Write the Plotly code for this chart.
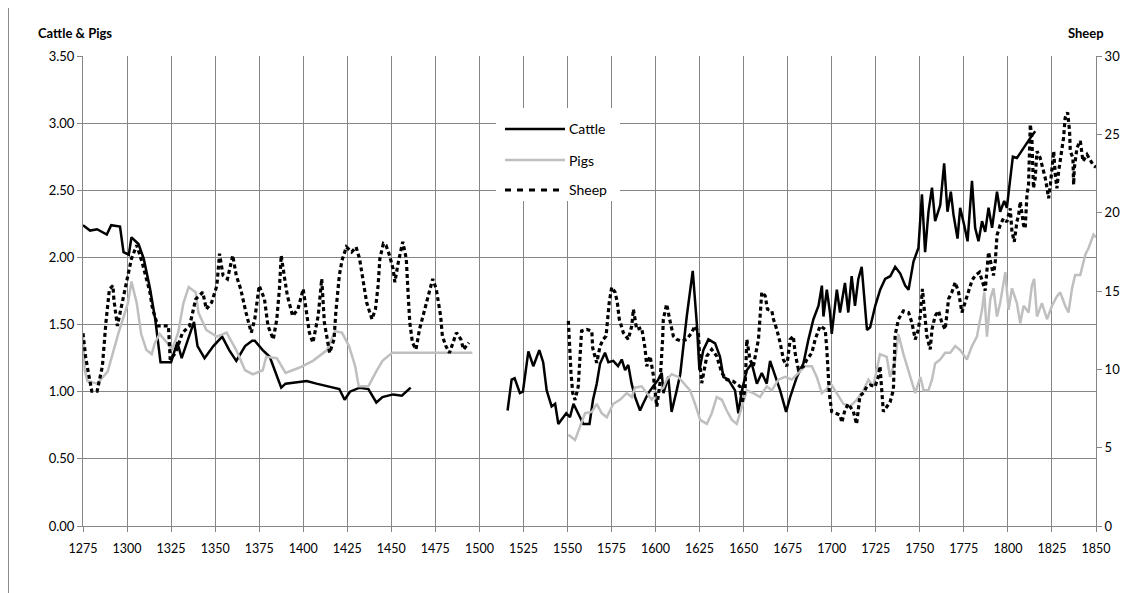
import plotly.graph_objects as go

# ---------------- data (year, value) ----------------
cattle_early = [(1275, 2.24), (1279, 2.20), (1283, 2.21), (1286, 2.19), (1288.5, 2.17), (1291, 2.24),
                (1296, 2.23), (1298, 2.04), (1301, 2.02), (1302.5, 2.15), (1306.5, 2.10), (1309.5, 1.99),
                (1313, 1.77), (1316, 1.54), (1318, 1.34), (1319, 1.22), (1325, 1.22), (1328.5, 1.37),
                (1331, 1.25), (1335, 1.41), (1338, 1.52), (1340, 1.34), (1344, 1.25), (1349, 1.34),
                (1354, 1.41), (1358, 1.31), (1362, 1.23), (1367, 1.34), (1371, 1.38), (1372.5, 1.38),
                (1377, 1.31), (1381, 1.26), (1384, 1.16), (1387.5, 1.03), (1390, 1.06), (1396, 1.07),
                (1402, 1.08), (1407.5, 1.06), (1415, 1.04), (1420.5, 1.02), (1423.5, 0.94), (1426.5, 1.00),
                (1432, 1.03), (1437, 1.02), (1441.5, 0.92), (1445, 0.96), (1451, 0.98), (1456, 0.97),
                (1461, 1.03)]

cattle_late = [(1516, 0.86), (1518.3, 1.09), (1520, 1.10), (1523, 0.99), (1524.7, 1.00), (1527.8, 1.30),
               (1530.6, 1.19), (1534, 1.31), (1536.2, 1.22), (1538.2, 1.01), (1541, 0.89), (1543, 0.91),
               (1544.8, 0.76), (1547.6, 0.81), (1549.3, 0.84), (1551.4, 0.81), (1553.4, 0.91), (1556, 0.84),
               (1559, 0.76), (1562.5, 0.76), (1564.5, 0.94), (1566.6, 1.06), (1568.5, 1.21), (1571.3, 1.29),
               (1573.2, 1.22), (1576, 1.23), (1578.7, 1.19), (1580.8, 1.24), (1582.7, 1.16), (1584.5, 1.20),
               (1586.4, 1.06), (1588.4, 0.96), (1591.2, 0.86), (1592.9, 0.91), (1595.9, 0.99), (1598.7, 1.04),
               (1601.5, 1.09), (1603.5, 1.14), (1604.5, 0.99), (1607.2, 1.11), (1609.1, 0.85), (1612, 1.01),
               (1614, 1.13), (1617.7, 1.56), (1621.1, 1.90), (1623.4, 1.51), (1624.9, 1.16), (1627.1, 1.31),
               (1630, 1.39), (1633.8, 1.36), (1636.6, 1.26), (1638.5, 1.11), (1641.3, 1.09), (1645.1, 1.01),
               (1647, 0.84), (1649, 1.01), (1651.8, 1.16), (1654.6, 1.21), (1657.5, 1.06), (1660.3, 1.14),
               (1663.1, 1.06), (1665, 1.23), (1667.9, 1.11), (1670.7, 1.01), (1674.1, 0.85), (1676.4, 0.96),
               (1680.2, 1.11), (1683.9, 1.21), (1686.8, 1.39), (1689.6, 1.54), (1692.5, 1.64), (1694.4, 1.79),
               (1695.3, 1.56), (1697.2, 1.76), (1699, 1.59), (1700, 1.43), (1702.9, 1.76), (1704.7, 1.59),
               (1707.5, 1.81), (1709.4, 1.59), (1711.3, 1.86), (1713.2, 1.64), (1715.1, 1.84), (1717, 1.93),
               (1720, 1.46), (1721.8, 1.48), (1724.7, 1.64), (1727.5, 1.76), (1730.3, 1.84), (1733.2, 1.86),
               (1736, 1.93), (1738.9, 1.88), (1741.7, 1.79), (1743.6, 1.76), (1746.4, 1.97), (1749.2, 2.07),
               (1751.2, 2.47), (1753, 2.04), (1754.9, 2.34), (1756.9, 2.52), (1758.7, 2.27), (1761.6, 2.39),
               (1763.8, 2.70), (1765.7, 2.34), (1767.6, 2.49), (1769.1, 2.32), (1771.4, 2.14), (1772.9, 2.37),
               (1775.2, 2.24), (1777.1, 2.12), (1779.6, 2.57), (1781.4, 2.22), (1783.3, 2.12), (1785.3, 2.27),
               (1787.1, 2.19), (1789, 2.37), (1791, 2.22), (1793.8, 2.49), (1795.6, 2.34), (1797.9, 2.42),
               (1799.4, 2.37), (1800.9, 2.54), (1802.8, 2.75), (1805.1, 2.74), (1808.9, 2.82), (1812.7, 2.89),
               (1815.5, 2.94)]

pigs_early = [(1275, 1.41), (1276, 1.16), (1277.5, 1.08), (1283, 1.06), (1289, 1.15), (1295, 1.43),
              (1300.5, 1.66), (1302.5, 1.82), (1305.5, 1.66), (1308, 1.43), (1311, 1.31), (1314, 1.28),
              (1315.7, 1.36), (1318.5, 1.43), (1323, 1.36), (1325.5, 1.31), (1329, 1.44), (1332, 1.66),
              (1335, 1.78), (1339, 1.74), (1340.5, 1.59), (1345, 1.46), (1351, 1.41), (1356.5, 1.44),
              (1362, 1.31), (1367, 1.16), (1371.5, 1.13), (1377, 1.16), (1379, 1.26), (1385, 1.25),
              (1390, 1.14), (1398, 1.18), (1405.5, 1.23), (1413.5, 1.31), (1418, 1.45), (1422, 1.44),
              (1426, 1.34), (1429.5, 1.19), (1431.5, 1.04), (1437, 1.04), (1441, 1.14), (1445, 1.23),
              (1450.5, 1.29), (1496, 1.29)]

pigs_late = [(1550.5, 0.68), (1554.3, 0.64), (1557.1, 0.74), (1560, 0.84), (1563.8, 0.85), (1566.6, 0.91),
             (1569.4, 0.84), (1572.3, 0.81), (1576, 0.91), (1579.8, 0.94), (1583.6, 0.99), (1586.5, 0.96),
             (1588.3, 1.03), (1592.1, 1.04), (1595, 0.99), (1597.8, 0.94), (1600.7, 0.99), (1604.4, 1.03),
             (1606.3, 1.09), (1609.2, 1.13), (1612.9, 1.11), (1616.5, 1.06), (1619.6, 1.01), (1622.4, 0.91),
             (1625.3, 0.79), (1629.1, 0.76), (1631.9, 0.84), (1634.7, 0.96), (1637.6, 0.94), (1640.4, 0.86),
             (1643.3, 0.79), (1646.1, 0.76), (1649, 0.89), (1651.8, 1.01), (1655.5, 0.99), (1659.3, 0.96),
             (1663.1, 1.04), (1666, 1.01), (1669.7, 1.09), (1673.5, 1.11), (1677.3, 1.09), (1681.1, 1.14),
             (1684.9, 1.19), (1688.7, 1.19), (1691.5, 1.11), (1694.4, 0.99), (1697.2, 1.02), (1699, 1.07),
             (1702.9, 0.99), (1706.6, 0.91), (1710.4, 0.89), (1714.2, 0.94), (1718, 1.01), (1720.8, 1.09),
             (1723.6, 1.04), (1727.4, 1.28), (1731.2, 1.26), (1733.1, 1.11), (1736, 1.23), (1737.8, 1.43),
             (1740.7, 1.28), (1743.5, 1.16), (1747.4, 0.99), (1750.3, 1.11), (1752.1, 1.01), (1754.9, 1.01),
             (1756.9, 1.09), (1758.7, 1.21), (1761.6, 1.24), (1764.4, 1.29), (1767.3, 1.29), (1770.1, 1.34),
             (1772.9, 1.31), (1776.7, 1.24), (1779.6, 1.34), (1782.4, 1.41), (1785.3, 1.61), (1786.6, 1.74),
             (1788.1, 1.41), (1790, 1.69), (1791.8, 1.77), (1793.8, 1.56), (1795.6, 1.66), (1798.5, 1.89),
             (1800.4, 1.61), (1802.3, 1.77), (1805.1, 1.66), (1807, 1.51), (1808.9, 1.64), (1811.7, 1.59),
             (1813.6, 1.79), (1814.9, 1.84), (1816.5, 1.56), (1819.3, 1.66), (1822.2, 1.54), (1825, 1.64),
             (1827.8, 1.71), (1829.7, 1.74), (1832.5, 1.64), (1834.4, 1.59), (1836.4, 1.77), (1838.2, 1.87),
             (1841.1, 1.87), (1843.9, 2.02), (1845.8, 2.07), (1848.6, 2.17), (1850, 2.15)]

sheep_early = [(1275, 12.3), (1276.5, 10.8), (1278, 9.8), (1280, 8.6), (1283, 8.6), (1285, 9.8),
               (1286, 10.2), (1288, 12.98), (1290, 15.13), (1292, 15.34), (1292.5, 14.49), (1294.5, 12.77),
               (1296, 13.63), (1298, 14.70), (1300.5, 15.99), (1302.5, 17.06), (1305.5, 17.92), (1308.5, 16.85),
               (1313, 14.92), (1314.5, 13.84), (1317.5, 12.77), (1323.5, 12.77), (1324.5, 10.62), (1327.5, 11.05),
               (1331.5, 12.34), (1335.5, 12.77), (1339, 14.49), (1343, 14.92), (1345, 13.84), (1348, 14.27),
               (1351, 15.34), (1352.5, 17.38), (1354.5, 15.99), (1357, 15.77), (1360, 17.27), (1362, 15.99),
               (1364.5, 15.13), (1367.5, 13.63), (1370.5, 12.34), (1372.5, 13.20), (1375, 15.34), (1378, 14.49),
               (1380, 12.77), (1383, 11.91), (1385, 13.20), (1386.5, 15.13), (1387.5, 17.27), (1389.5, 15.77),
               (1391, 14.70), (1394, 13.41), (1397, 13.84), (1400, 15.13), (1402, 13.63), (1403.5, 12.34),
               (1405.5, 11.70), (1408.5, 13.41), (1410.5, 15.77), (1412, 12.98), (1415, 11.05), (1417.5, 11.91),
               (1418.5, 13.63), (1420.5, 15.99), (1422, 16.95), (1424.5, 17.81), (1427.5, 17.49), (1430, 17.81),
               (1432, 17.06), (1434, 15.77), (1436, 14.27), (1439, 13.20), (1441, 13.84), (1442.5, 15.34),
               (1443.5, 17.06), (1445.5, 18.03), (1447, 17.92), (1449, 17.27), (1451, 16.42), (1452, 15.56),
               (1454, 16.85), (1456.5, 18.14), (1458.5, 17.06), (1459.5, 14.92), (1460.5, 12.98), (1462, 11.70),
               (1464, 11.27), (1466, 12.55), (1469, 13.84), (1471.5, 14.92), (1473.5, 15.77), (1475.5, 15.13),
               (1478, 13.41), (1479, 12.12), (1481, 11.48), (1483, 11.05), (1485, 11.70), (1487, 12.34),
               (1489.5, 11.91), (1491, 11.27), (1494, 11.70)]

sheep_late = [(1550.5, 13.09), (1551, 12.12), (1551.3, 10.84), (1552, 9.77), (1553, 8.48), (1554.3, 8.05),
              (1556.1, 8.90), (1556.7, 10.19), (1557.1, 11.37), (1558, 12.45), (1560.9, 12.55), (1563.8, 12.45),
              (1564.3, 11.37), (1566.6, 10.41), (1568.5, 11.48), (1570.3, 11.91), (1571.9, 12.12), (1572.6, 13.09),
              (1573.7, 14.27), (1575.1, 15.24), (1577, 14.92), (1578.3, 14.27), (1579.4, 13.20), (1581.7, 12.34),
              (1584.5, 11.91), (1586.5, 12.77), (1587.4, 13.84), (1589.3, 12.55), (1592.1, 12.66), (1594, 11.37),
              (1595, 10.19), (1596.9, 10.84), (1598.7, 9.66), (1599.7, 8.61), (1600.7, 7.62), (1602.5, 9.12),
              (1603.5, 10.62), (1604, 11.91), (1604.4, 13.20), (1606.3, 14.16), (1608.2, 13.09), (1610.1, 12.12),
              (1612, 11.91), (1614.9, 11.8), (1617.7, 11.91), (1620.5, 12.34), (1622.4, 12.77), (1624.3, 12.34),
              (1625.3, 10.19), (1626.2, 9.12), (1629.1, 10.84), (1631.9, 11.27), (1634.7, 10.84), (1637.6, 9.77),
              (1640.4, 9.34), (1644.2, 9.23), (1648, 8.90), (1649, 7.83), (1650.8, 8.69), (1651.5, 11.05),
              (1651.8, 11.91), (1653.6, 10.62), (1655.5, 10.19), (1658.4, 11.91), (1659.3, 13.20), (1660.3, 14.92),
              (1662.2, 14.70), (1663.5, 13.84), (1666, 13.73), (1666.9, 13.2), (1668.8, 12.55), (1670.7, 11.70),
              (1672.6, 10.62), (1674.5, 10.19), (1676.4, 11.91), (1678.2, 12.12), (1679.2, 11.05), (1681.1, 9.98),
              (1683.9, 10.19), (1685.9, 10.62), (1688.7, 11.05), (1690.6, 11.91), (1693.4, 12.77), (1696.3, 12.55),
              (1697.2, 11.27), (1697.8, 10.19), (1698.1, 8.90), (1698.7, 8.37), (1700, 7.30), (1702.9, 7.19),
              (1704.8, 7.08), (1705.7, 6.6), (1707.5, 7.4), (1709.4, 7.8), (1712.3, 7.3), (1714.1, 6.5),
              (1716, 8.3), (1718, 8.5), (1719.9, 8.9), (1721.8, 9.0), (1724.6, 8.9), (1726.5, 9.55),
              (1727.4, 10.2), (1728.3, 8.8), (1729.3, 7.3), (1731.2, 7.6), (1733.1, 7.9), (1735, 8.7),
              (1735.4, 10.9), (1736, 12.2), (1737.9, 13.2), (1740.7, 13.73), (1743.6, 13.63), (1745.5, 12.98),
              (1747.4, 11.91), (1749.2, 12.55), (1750.2, 13.41), (1750.8, 14.27), (1751.5, 15.13), (1752.5, 13.84),
              (1754, 12.12), (1755.9, 11.27), (1756.9, 12.55), (1758.7, 13.41), (1760.6, 13.73), (1762.5, 12.98),
              (1764.4, 12.55), (1766.3, 14.49), (1768.2, 14.92), (1770.1, 15.56), (1772, 14.92), (1773.9, 13.63),
              (1775.8, 14.27), (1777.6, 14.92), (1779.6, 15.67), (1781.4, 15.99), (1783.9, 16.20), (1787.1, 15.02),
              (1788.1, 16.20), (1789, 17.49), (1791, 16.42), (1791.8, 15.99), (1792.8, 16.85), (1793.8, 18.56),
              (1795.6, 19.20), (1797.5, 19.63), (1799.4, 19.42), (1801.3, 20.28), (1802.3, 18.78), (1803.6, 18.14),
              (1805.1, 19.42), (1806.1, 19.85), (1807, 20.71), (1808.9, 19.20), (1809.8, 18.99), (1810.8, 21.13),
              (1811.7, 21.78), (1812.2, 24.14), (1812.7, 25.64), (1813.6, 24.78), (1814.5, 21.56), (1815.5, 22.21),
              (1816.5, 23.92), (1818.3, 23.50), (1819.9, 22.85), (1821.2, 22.21), (1822.2, 21.56), (1823.1, 20.92),
              (1824.1, 21.78), (1825, 23.07), (1826, 23.92), (1826.9, 22.42), (1827.8, 21.56), (1828.8, 22.64),
              (1830.7, 23.92), (1831.6, 24.78), (1832.5, 26.07), (1833.9, 26.4), (1835, 25.2), (1835.4, 23.92),
              (1836.9, 23.5), (1837.3, 21.78), (1837.7, 22.85), (1839.2, 24.14), (1841.1, 24.57), (1842.6, 23.28),
              (1844.9, 23.71), (1846.7, 23.4), (1848.6, 23.0), (1850, 22.9)]

x_ticks = list(range(1275, 1851, 25))
left_ticks = [0, 0.5, 1.0, 1.5, 2.0, 2.5, 3.0, 3.5]
right_ticks = [0, 5, 10, 15, 20, 25, 30]

series_names = ["Cattle", "Pigs", "Sheep"]


def join(*segments):
    xs, ys = [], []
    for i, seg in enumerate(segments):
        if i:
            xs.append(None)
            ys.append(None)
        xs += [p[0] for p in seg]
        ys += [p[1] for p in seg]
    return xs, ys


cx, cy = join(cattle_early, cattle_late)
px_, py_ = join(pigs_early, pigs_late)
sx, sy = join(sheep_early, sheep_late)

FONT = "Lato, 'Open Sans', sans-serif"
GRID = "#868686"
PIG = "#BFBFBF"
SHEEP_DASH = "4px,3px"

fig = go.Figure()
fig.add_trace(go.Scatter(x=cx, y=cy, name=series_names[0], mode="lines",
                         line=dict(color="black", width=2.5), showlegend=False))
fig.add_trace(go.Scatter(x=px_, y=py_, name=series_names[1], mode="lines",
                         line=dict(color=PIG, width=2.5), showlegend=False))
fig.add_trace(go.Scatter(x=sx, y=sy, name=series_names[2], mode="lines", yaxis="y2",
                         line=dict(color="black", width=3.2, dash=SHEEP_DASH), showlegend=False))

# page has an 8px body margin: figure occupies page x 8..1135, y 8..593
OFF = 8
W, H = 1135 - OFF, 593 - OFF
L, R, T, B = 75, 39, 48, 67
pw, ph = W - L - R, H - T - B


def px2paper(xp, yp):
    """page pixel -> paper coordinates"""
    return (xp - OFF - L) / pw, (H - B - (yp - OFF)) / ph


shapes = []
annotations = []

# left frame line of the chart area
fx, _ = px2paper(8.5, 0)
_, fy0 = px2paper(0, 593)
_, fy1 = px2paper(0, 8)
shapes.append(dict(type="line", xref="paper", yref="paper", x0=fx, x1=fx, y0=fy0, y1=fy1,
                   line=dict(color="#8C8C8C", width=1), layer="below"))

# legend box (manual)
lx0, ly0 = px2paper(496, 201)
lx1, ly1 = px2paper(620, 108)
shapes.append(dict(type="rect", xref="paper", yref="paper", x0=lx0, y0=ly0, x1=lx1, y1=ly1,
                   line=dict(width=0), fillcolor="white", layer="above"))
legend_y = [129, 160, 190]
legend_styles = [dict(color="black", width=2.5), dict(color=PIG, width=2.5),
                 dict(color="black", width=3, dash="6px,6px")]
for name, ypix, st in zip(series_names, legend_y, legend_styles):
    ax0, ay = px2paper(505, ypix)
    ax1, _ = px2paper(565, ypix)
    shapes.append(dict(type="line", xref="paper", yref="paper", x0=ax0, x1=ax1, y0=ay, y1=ay,
                       line=st, layer="above"))
    tx, _ = px2paper(567, ypix)
    annotations.append(dict(text=name, xref="paper", yref="paper", x=tx, y=ay, xanchor="left",
                            yanchor="middle", showarrow=False, font=dict(family=FONT, size=14, color="black")))

# axis titles
tx, ty = px2paper(36, 33)
annotations.append(dict(text="<b>Cattle & Pigs</b>", xref="paper", yref="paper", x=tx, y=ty,
                        xanchor="left", yanchor="middle", showarrow=False,
                        font=dict(family=FONT, size=13, color="black")))
tx, ty = px2paper(1106, 33)
annotations.append(dict(text="<b>Sheep</b>", xref="paper", yref="paper", x=tx, y=ty,
                        xanchor="right", yanchor="middle", showarrow=False,
                        font=dict(family=FONT, size=13, color="black")))

fig.update_layout(
    width=W, height=H,
    margin=dict(l=L, r=R, t=T, b=B),
    paper_bgcolor="white", plot_bgcolor="white",
    font=dict(family=FONT, size=12, color="black"),
    showlegend=False,
    xaxis=dict(range=[1275, 1850], tickmode="array", tickvals=x_ticks,
               ticktext=[str(v) for v in x_ticks],
               showgrid=True, gridcolor=GRID, gridwidth=1, zeroline=False,
               showline=True, linecolor=GRID, linewidth=1,
               ticks="outside", ticklen=5, tickcolor=GRID, tickfont=dict(size=12.5),
               ticklabelstandoff=6),
    yaxis=dict(range=[0, 3.5], tickmode="array", tickvals=left_ticks,
               ticktext=[f"{v:.2f}" for v in left_ticks],
               showgrid=True, gridcolor=GRID, gridwidth=1, zeroline=False,
               showline=True, linecolor=GRID, linewidth=1,
               ticks="outside", ticklen=5, tickcolor=GRID, tickfont=dict(size=13)),
    yaxis2=dict(range=[0, 30], overlaying="y", side="right", tickmode="array",
                tickvals=right_ticks, ticktext=[str(v) for v in right_ticks],
                showgrid=False, zeroline=False, showline=True, linecolor=GRID, linewidth=1,
                ticks="outside", ticklen=5, tickcolor=GRID, tickfont=dict(size=13)),
    shapes=shapes,
    annotations=annotations,
)

fig.write_html("out.html")
